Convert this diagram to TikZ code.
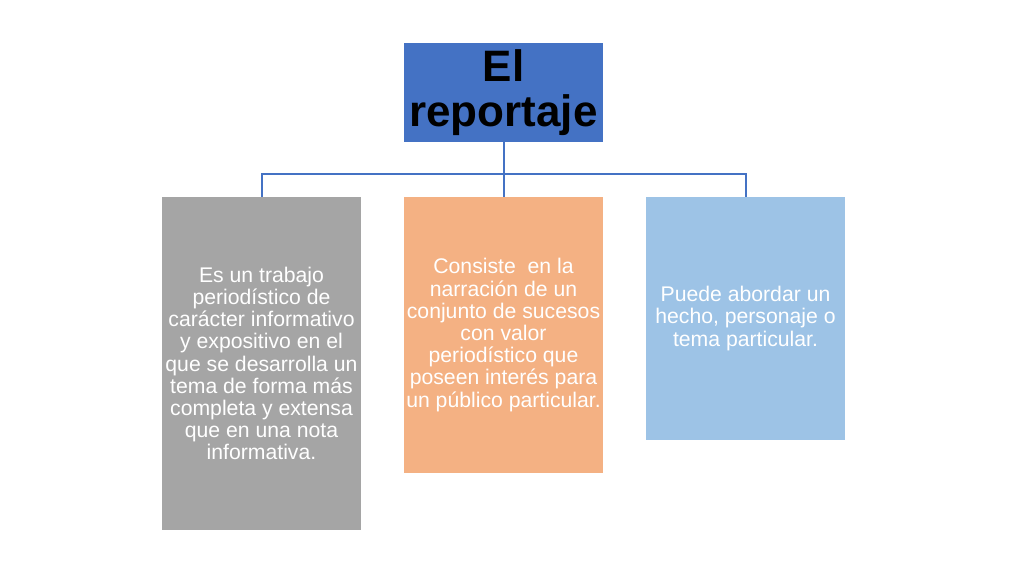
\documentclass[tikz,border=0pt]{standalone}
\usepackage{fontspec}
\setmainfont{Liberation Sans}
\definecolor{topblue}{HTML}{4472C4}
\definecolor{boxgray}{HTML}{A5A5A5}
\definecolor{boxorange}{HTML}{F4B183}
\definecolor{boxblue}{HTML}{9DC3E6}
\tikzset{
  box/.style={rectangle, minimum width=199pt, inner sep=0pt, align=center, text=white,
    font={\fontsize{21.2}{22.2}\selectfont}},
  headbox/.style={rectangle, fill=topblue, minimum width=199pt, minimum height=99pt, inner sep=0pt,
    align=center, text=black, font={\bfseries\fontsize{44}{45.5}\selectfont}},
  conn/.style={draw=topblue, line width=2pt}
}
\begin{document}
\begin{tikzpicture}[x=1pt,y=-1pt]
\useasboundingbox (0,0) rectangle (1024,576);
\fill[white] (0,0) rectangle (1024,576);
\node[headbox] (top) at (503.5,92.5) {El\\reportaje};
\node[box, fill=boxgray, minimum height=333pt] (g) at (261.5,363.5)
  {Es un trabajo\\periodístico de\\carácter informativo\\y expositivo en el\\que se desarrolla un\\tema de forma más\\completa y extensa\\que en una nota\\informativa.};
\node[box, fill=boxorange, minimum height=276pt] (o) at (503.5,335)
  {Consiste\ \ en la\\narración de un\\conjunto de sucesos\\con valor\\periodístico que\\poseen interés para\\un público particular.};
\node[box, fill=boxblue, minimum height=243pt] (b) at (745.5,318.5)
  {Puede abordar un\\hecho, personaje o\\tema particular.};
\coordinate (bus) at (503.5,174);
\draw[conn] (top.south) -- (bus);
\draw[conn] (g.north) |- (bus) -| (b.north);
\draw[conn] (bus) -- (o.north);
\end{tikzpicture}
\end{document}
